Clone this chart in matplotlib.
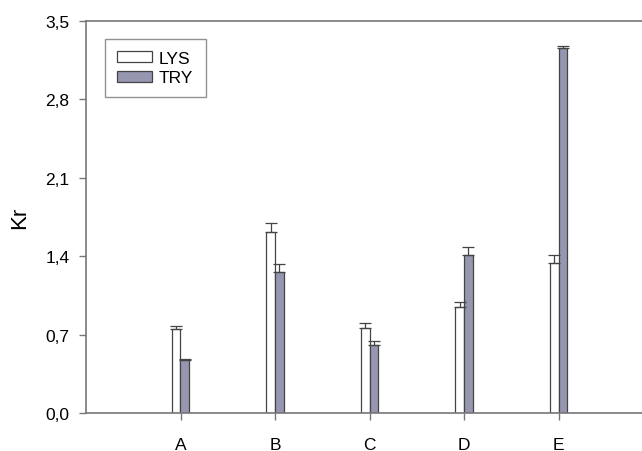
import matplotlib
matplotlib.use("Agg")
import matplotlib.pyplot as plt
import numpy as np

categories = ["A", "B", "C", "D", "E"]
lys = [0.75, 1.62, 0.76, 0.95, 1.34]
lys_err = [0.03, 0.08, 0.04, 0.04, 0.07]
tryp = [0.47, 1.26, 0.61, 1.41, 3.26]
tryp_err = [0.015, 0.07, 0.03, 0.07, 0.02]
yticks = [0.0, 0.7, 1.4, 2.1, 2.8, 3.5]
ytick_labels = ["0,0", "0,7", "1,4", "2,1", "2,8", "3,5"]

plt.rcParams['font.family'] = ['Liberation Sans', 'DejaVu Sans']

fig = plt.figure(figsize=(6.42, 4.52), dpi=100)
ax = fig.add_axes([86/642, 38/452, 567/642, 392/452])

x = np.arange(1, len(categories) + 1)
w = 0.09
spine_c = "#777777"
ax.bar(x - w/2, lys, w, color="white", edgecolor="#444444", linewidth=0.9,
       yerr=[np.zeros(len(lys)), lys_err], error_kw=dict(ecolor="#444444", elinewidth=0.9, capsize=4, capthick=0.9),
       label="LYS", zorder=2)
ax.bar(x + w/2, tryp, w, color="#9696b0", edgecolor="#444444", linewidth=0.9,
       yerr=[np.zeros(len(tryp)), tryp_err], error_kw=dict(ecolor="#444444", elinewidth=0.9, capsize=4, capthick=0.9),
       label="TRY", zorder=2)

ax.set_xlim(0, 6)
ax.set_ylim(0, 3.5)
ax.set_xticks(x)
ax.set_xticklabels(categories, fontsize=12.5)
ax.set_yticks(yticks)
ax.set_yticklabels(ytick_labels, fontsize=12.5)
ax.tick_params(axis="both", direction="out", length=5, color=spine_c, width=1)
ax.tick_params(axis="y", pad=7)
ax.tick_params(axis="x", pad=12)
for s in ax.spines.values():
    s.set_color(spine_c)
    s.set_linewidth(1.2)
ax.spines["right"].set_visible(False)
ax.set_ylabel("Kr", fontsize=16, labelpad=11)

leg = ax.legend(loc="upper left", bbox_to_anchor=(0.034, 0.955), frameon=True, fancybox=False,
                edgecolor=spine_c, fontsize=12.5, handlelength=2.0, handleheight=0.6,
                borderpad=0.7, labelspacing=0.25, handletextpad=0.4, borderaxespad=0)
leg.get_frame().set_linewidth(1.0)

fig.savefig("out.png", dpi=100)
